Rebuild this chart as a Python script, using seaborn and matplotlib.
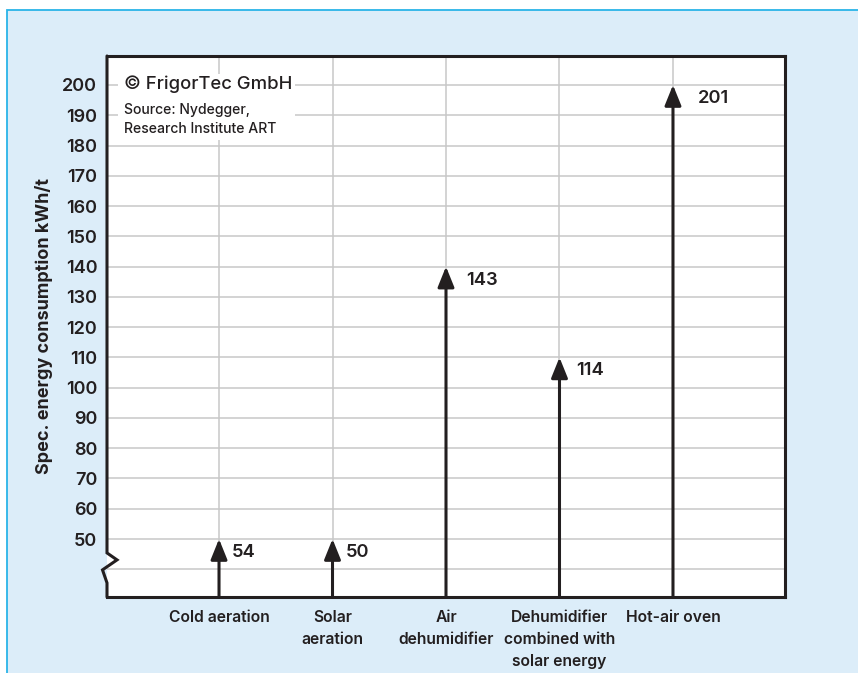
import matplotlib
matplotlib.use("Agg")
import matplotlib.pyplot as plt
import seaborn as sns
from matplotlib.patches import Rectangle

# ---- data ----
categories = ["Cold aeration", "Solar\naeration", "Air\ndehumidifier",
              "Dehumidifier\ncombined with\nsolar energy", "Hot-air oven"]
values = [54, 50, 143, 114, 201]          # printed values
arrow_tips = [50, 50, 140, 110, 200]      # where the arrow heads point
y_ticks = [50, 60, 70, 80, 90, 100, 110, 120, 130, 140, 150, 160, 170, 180, 190, 200]
grid_levels = [40] + y_ticks
y_label = "Spec. energy consumption kWh/t"
copyright_text = "© FrigorTec GmbH"
source_lines = ["Source: Nydegger,", "Research Institute ART"]

# ---- style ----
sns.set_theme(style="white")
plt.rcParams['font.family'] = ['Inter', 'DejaVu Sans']
INK = '#231f20'
GRID = '#c8c8c8'
BG = '#dcedf9'
BORDER = '#2ab4e8'

W, H = 858, 673
fig = plt.figure(figsize=(W / 100, H / 100), dpi=100)
fig.patch.set_facecolor('white')
fig.patches.append(Rectangle((7 / W, -0.2), 1.2, 1 - 10 / H + 0.2,
                             transform=fig.transFigure, facecolor=BG,
                             edgecolor=BORDER, lw=1.3, zorder=-10))

L, R, T, B = 107, 785, 56, 597
ax = fig.add_axes([L / W, 1 - B / H, (R - L) / W, (B - T) / H])
ax.set_zorder(1)
ax.set_facecolor('white')

x0, x1 = -0.987, 4.987
y0, y1 = 30.84, 209.58
ax.set_xlim(x0, x1)
ax.set_ylim(y0, y1)

# grid
for g in grid_levels:
    ax.axhline(g, color=GRID, lw=1.1, zorder=0.5)
for i in range(len(categories)):
    ax.axvline(i, color=GRID, lw=1.1, zorder=0.5)

# spines
for s in ['top', 'right', 'bottom']:
    ax.spines[s].set_color(INK)
    ax.spines[s].set_linewidth(2.2)
    ax.spines[s].set_zorder(5)
ax.spines['left'].set_visible(False)
dx = 10 / 113.5
ax.plot([x0, x0, x0 + dx, x0 - 0.45 * dx, x0, x0],
        [y1, 45.4, 43.1, 39.8, 35.5, y0],
        color=INK, lw=2.2, clip_on=False, zorder=6, solid_joinstyle='miter')

# ticks
ax.set_yticks(y_ticks)
ax.set_yticklabels([str(t) for t in y_ticks], fontsize=13.0, fontweight=600, color=INK)
ax.set_xticks(range(len(categories)))
ax.set_xticklabels(categories, fontsize=11.3, fontweight=600, color=INK, linespacing=1.6)
ax.tick_params(axis='y', length=0, pad=7)
ax.tick_params(axis='x', length=0, pad=9)
ax.grid(False)

ax.set_ylabel(y_label, fontsize=13.0, fontweight='bold', color=INK)
ax.yaxis.set_label_coords((53 - L) / (R - L), 0.5)

# arrows
label_dx = [13, 13, 20, 17, 25]
for i, (tip, val) in enumerate(zip(arrow_tips, values)):
    ax.annotate('', xy=(i, tip), xytext=(i, y0),
                arrowprops=dict(arrowstyle='-|>,head_length=0.62,head_width=0.25',
                                mutation_scale=20, lw=2.2, color=INK,
                                shrinkA=0, shrinkB=0),
                annotation_clip=False, zorder=4)
    ax.annotate(str(val), xy=(i, tip), xytext=(label_dx[i], -13.5),
                textcoords='offset pixels', ha='left', va='center',
                fontsize=13.2, fontweight=600, color=INK, zorder=4)

# copyright block
ax.add_patch(Rectangle(((118 - L) / (R - L), (B - 140) / (B - T)),
                       (295 - 118) / (R - L), (140 - 74) / (B - T),
                       transform=ax.transAxes, facecolor='white',
                       edgecolor='none', zorder=2))
ax.text((124 - L) / (R - L), (B - 89) / (B - T), copyright_text,
        transform=ax.transAxes, fontsize=13.3, fontweight=500, color=INK,
        va='baseline', zorder=3)
for j, line in enumerate(source_lines):
    ax.text((124 - L) / (R - L), (B - (114 + 19 * j)) / (B - T), line,
            transform=ax.transAxes, fontsize=10.1, fontweight=500, color=INK,
            va='baseline', zorder=3)

fig.savefig('out.png', dpi=100, facecolor=fig.get_facecolor())
